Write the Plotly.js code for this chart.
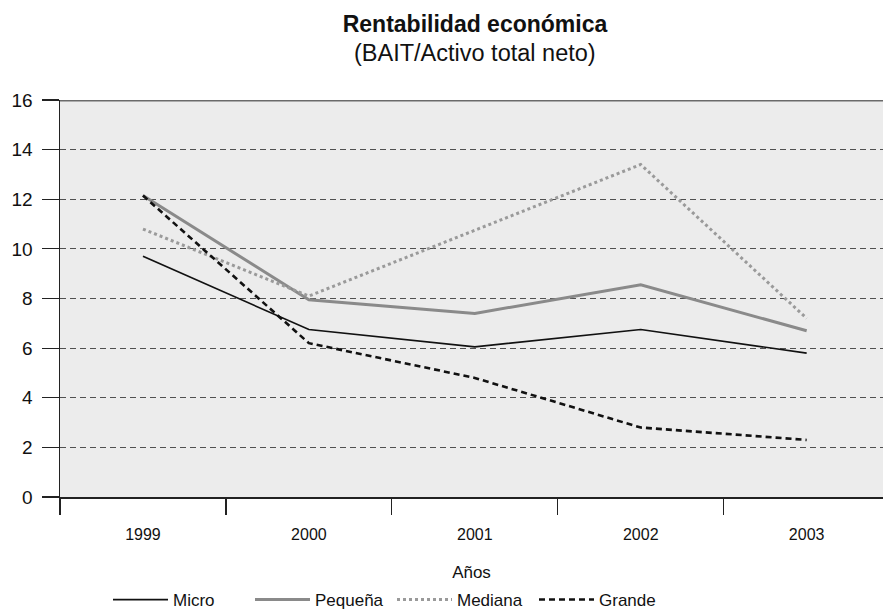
<!DOCTYPE html>
<html>
<head>
<meta charset="utf-8">
<script src="https://cdn.plot.ly/plotly-3.0.1.min.js"></script>
<style>
  html, body { margin: 0; padding: 0; background: #fff; }
  #chart { width: 883px; height: 611px; }
</style>
</head>
<body>
<div id="chart"></div>
<script>
// Rentabilidad económica por tamaño de empresa (BAIT / Activo total neto, %)
const years = ['1999', '2000', '2001', '2002', '2003'];
const micro = [9.7, 6.75, 6.05, 6.75, 5.8];
const pequena = [12.15, 7.95, 7.4, 8.55, 6.7];
const mediana = [10.8, 8.1, 10.75, 13.4, 7.2];
const grande = [12.15, 6.2, 4.8, 2.8, 2.3];
const yTicks = [0, 2, 4, 6, 8, 10, 12, 14, 16];

const narrow = '"Liberation Sans Narrow", "Arial Narrow", "Liberation Sans", sans-serif';
const sans = '"Liberation Sans", Arial, sans-serif';

const traces = [
  { name: 'Micro', x: years, y: micro, type: 'scatter', mode: 'lines',
    line: { color: '#111111', width: 1.7 } },
  { name: 'Pequeña', x: years, y: pequena, type: 'scatter', mode: 'lines',
    line: { color: '#8a8a8a', width: 3 } },
  { name: 'Mediana', x: years, y: mediana, type: 'scatter', mode: 'lines',
    line: { color: '#9a9a9a', width: 3, dash: 'dot' } },
  { name: 'Grande', x: years, y: grande, type: 'scatter', mode: 'lines',
    line: { color: '#111111', width: 2.6, dash: '6px,4px' } }
];

const layout = {
  width: 883,
  height: 611,
  paper_bgcolor: '#ffffff',
  plot_bgcolor: '#ececec',
  margin: { l: 60, r: 0, t: 100, b: 114 },
  showlegend: true,
  title: {
    text: '<b>Rentabilidad económica</b>',
    font: { family: sans, size: 23, color: '#111' },
    x: 475 / 883, xref: 'container', xanchor: 'center',
    y: 1 - 24 / 611, yref: 'container', yanchor: 'middle'
  },
  annotations: [
    { text: '(BAIT/Activo total neto)', xref: 'paper', yref: 'paper',
      x: (475 - 60) / 823, y: 1 + (100 - 53) / 397, xanchor: 'center', yanchor: 'middle',
      showarrow: false, font: { family: sans, size: 23.5, color: '#111' } }
  ],
  xaxis: {
    type: 'category',
    range: [-0.5, 4.46],
    tickson: 'boundaries',
    ticks: 'outside',
    ticklen: 16,
    tickwidth: 1.2,
    tickcolor: '#222',
    ticklabelstandoff: 22,
    showline: true,
    linecolor: '#222',
    linewidth: 1.5,
    showgrid: false,
    zeroline: false,
    tickfont: { family: narrow, size: 16, color: '#111' },
    title: { text: 'Años', font: { family: sans, size: 17, color: '#111' }, standoff: 26 }
  },
  yaxis: {
    range: [0, 16],
    tickvals: yTicks,
    ticks: 'outside',
    ticklen: 17,
    tickwidth: 1.2,
    tickcolor: '#222',
    ticklabelstandoff: 5,
    showline: true,
    linecolor: '#222',
    linewidth: 1.5,
    showgrid: true,
    gridcolor: '#505050',
    gridwidth: 1,
    griddash: '6px,4px',
    zeroline: false,
    tickfont: { family: sans, size: 19, color: '#111' }
  },
  shapes: [
    { type: 'line', xref: 'paper', yref: 'y', x0: 0, x1: 1, y0: 16, y1: 16,
      line: { color: '#6a6a6a', width: 3 } }
  ],
  legend: {
    orientation: 'h',
    xref: 'container', yref: 'container',
    x: 108 / 883, xanchor: 'left',
    y: 11 / 611, yanchor: 'middle',
    itemwidth: 55,
    entrywidth: 72,
    font: { family: narrow, size: 17, color: '#111' },
    bgcolor: 'rgba(0,0,0,0)'
  }
};

Plotly.newPlot('chart', traces, layout, { displayModeBar: false, staticPlot: true });
</script>
</body>
</html>
